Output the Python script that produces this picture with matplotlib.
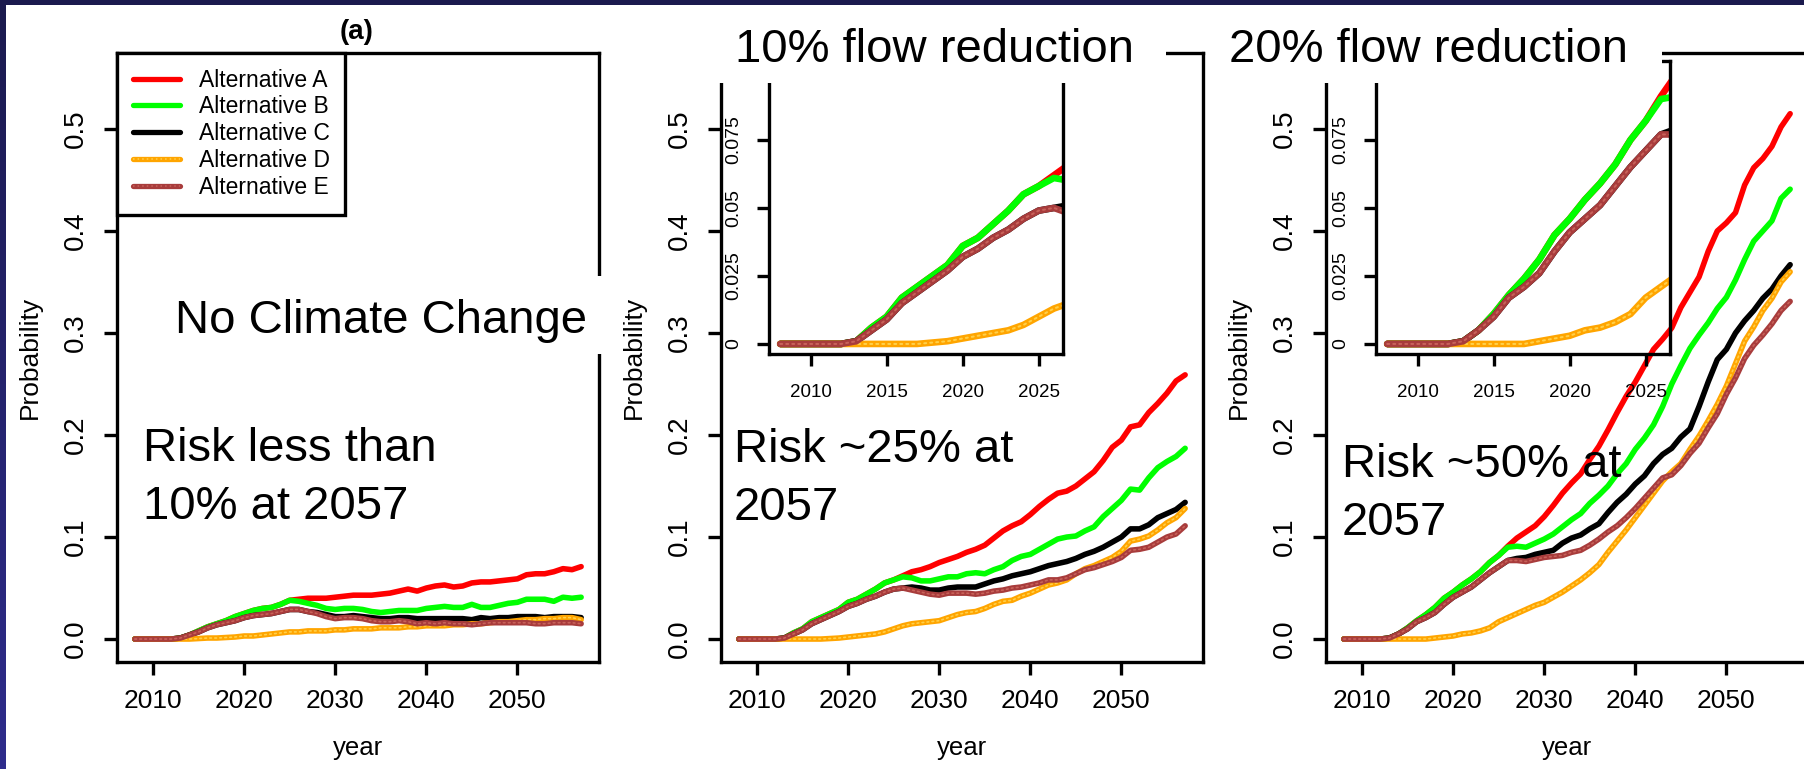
import numpy as np
import matplotlib
matplotlib.use('Agg')
import matplotlib.pyplot as plt
from matplotlib.patches import Rectangle
from matplotlib.lines import Line2D
from matplotlib.colors import LinearSegmentedColormap

plt.rcParams['font.family'] = ['Liberation Sans', 'DejaVu Sans']

years = np.arange(2008, 2058)

# no climate change
nc_a = [0, 0, 0, 0, 0, 0.001, 0.004, 0.008, 0.012, 0.015, 0.018, 0.022, 0.025, 0.028, 0.030,
        0.031, 0.034, 0.038, 0.039, 0.040, 0.040, 0.040, 0.041, 0.042, 0.043, 0.043, 0.043, 0.044,
        0.045, 0.047, 0.049, 0.047, 0.050, 0.052, 0.053, 0.051, 0.052, 0.055, 0.056, 0.056, 0.057,
        0.058, 0.059, 0.063, 0.064, 0.064, 0.066, 0.069, 0.068, 0.071]
nc_b = [0, 0, 0, 0, 0, 0.001, 0.004, 0.008, 0.012, 0.015, 0.018, 0.022, 0.025, 0.028, 0.030,
        0.031, 0.034, 0.038, 0.037, 0.035, 0.033, 0.030, 0.029, 0.030, 0.030, 0.029, 0.027, 0.026,
        0.027, 0.028, 0.028, 0.028, 0.030, 0.031, 0.032, 0.031, 0.031, 0.034, 0.031, 0.031, 0.033,
        0.035, 0.036, 0.039, 0.039, 0.039, 0.037, 0.041, 0.040, 0.041]
nc_c = [0, 0, 0, 0, 0, 0.001, 0.004, 0.007, 0.011, 0.014, 0.016, 0.018, 0.021, 0.023, 0.024,
        0.025, 0.027, 0.029, 0.029, 0.027, 0.026, 0.024, 0.022, 0.022, 0.023, 0.022, 0.021, 0.020,
        0.020, 0.021, 0.021, 0.020, 0.020, 0.020, 0.020, 0.020, 0.020, 0.019, 0.021, 0.020, 0.021,
        0.021, 0.022, 0.022, 0.022, 0.021, 0.022, 0.022, 0.022, 0.021]
nc_d = [0, 0, 0, 0, 0, 0, 0, 0.0005, 0.001, 0.001, 0.0015, 0.002, 0.003, 0.003, 0.004,
        0.005, 0.006, 0.007, 0.007, 0.008, 0.008, 0.008, 0.009, 0.009, 0.010, 0.010, 0.010, 0.011,
        0.011, 0.011, 0.012, 0.012, 0.013, 0.013, 0.013, 0.014, 0.014, 0.015, 0.015, 0.016, 0.017,
        0.017, 0.018, 0.019, 0.019, 0.020, 0.020, 0.021, 0.021, 0.019]
nc_e = [0, 0, 0, 0, 0, 0.001, 0.004, 0.007, 0.011, 0.014, 0.016, 0.018, 0.021, 0.023, 0.024,
        0.025, 0.027, 0.029, 0.029, 0.027, 0.025, 0.022, 0.020, 0.021, 0.021, 0.020, 0.018, 0.017,
        0.017, 0.018, 0.017, 0.015, 0.016, 0.015, 0.016, 0.015, 0.015, 0.014, 0.015, 0.016, 0.016,
        0.016, 0.016, 0.016, 0.015, 0.015, 0.016, 0.016, 0.016, 0.015]

# 10% flow reduction
f10_a = [0, 0, 0, 0, 0, 0.001, 0.006, 0.010, 0.017, 0.021, 0.025, 0.029, 0.036, 0.039, 0.044,
         0.049, 0.055, 0.058, 0.062, 0.066, 0.068, 0.071, 0.075, 0.078, 0.081, 0.085, 0.088, 0.092,
         0.099, 0.106, 0.111, 0.115, 0.122, 0.130, 0.137, 0.143, 0.145, 0.150, 0.157, 0.164, 0.175,
         0.188, 0.195, 0.208, 0.210, 0.222, 0.231, 0.241, 0.253, 0.259]
f10_b = [0, 0, 0, 0, 0, 0.001, 0.006, 0.010, 0.017, 0.021, 0.025, 0.029, 0.036, 0.039, 0.044,
         0.049, 0.055, 0.058, 0.061, 0.060, 0.057, 0.057, 0.059, 0.061, 0.061, 0.064, 0.065, 0.064,
         0.068, 0.071, 0.077, 0.081, 0.083, 0.088, 0.093, 0.098, 0.100, 0.101, 0.106, 0.110, 0.120,
         0.128, 0.136, 0.147, 0.146, 0.158, 0.168, 0.174, 0.179, 0.187]
f10_c = [0, 0, 0, 0, 0, 0.001, 0.005, 0.009, 0.015, 0.019, 0.023, 0.027, 0.032, 0.035, 0.039,
         0.042, 0.046, 0.049, 0.050, 0.051, 0.050, 0.048, 0.048, 0.050, 0.051, 0.051, 0.051, 0.054,
         0.057, 0.059, 0.062, 0.064, 0.066, 0.069, 0.072, 0.074, 0.076, 0.079, 0.083, 0.086, 0.090,
         0.095, 0.100, 0.108, 0.108, 0.112, 0.119, 0.123, 0.127, 0.134]
f10_d = [0, 0, 0, 0, 0, 0, 0, 0, 0, 0, 0.0005, 0.001, 0.002, 0.003, 0.004,
         0.005, 0.007, 0.010, 0.013, 0.015, 0.016, 0.017, 0.018, 0.021, 0.024, 0.026, 0.027, 0.030,
         0.034, 0.037, 0.038, 0.042, 0.045, 0.049, 0.053, 0.055, 0.058, 0.064, 0.069, 0.072, 0.076,
         0.080, 0.086, 0.096, 0.098, 0.101, 0.107, 0.114, 0.119, 0.128]
f10_e = [0, 0, 0, 0, 0, 0.001, 0.005, 0.009, 0.015, 0.019, 0.023, 0.027, 0.032, 0.035, 0.039,
         0.042, 0.046, 0.049, 0.050, 0.048, 0.046, 0.044, 0.043, 0.045, 0.045, 0.045, 0.044, 0.045,
         0.047, 0.048, 0.050, 0.051, 0.053, 0.055, 0.058, 0.058, 0.060, 0.064, 0.068, 0.070, 0.073,
         0.076, 0.080, 0.087, 0.088, 0.090, 0.095, 0.100, 0.103, 0.111]

# 20% flow reduction
f20_a = [0, 0, 0, 0, 0, 0.001, 0.005, 0.011, 0.018, 0.024, 0.031, 0.040, 0.046, 0.053, 0.059,
         0.066, 0.075, 0.082, 0.091, 0.099, 0.105, 0.111, 0.120, 0.131, 0.143, 0.153, 0.162, 0.176,
         0.189, 0.205, 0.222, 0.238, 0.252, 0.268, 0.284, 0.294, 0.305, 0.325, 0.340, 0.355, 0.380,
         0.400, 0.408, 0.418, 0.445, 0.462, 0.471, 0.483, 0.502, 0.515]
f20_b = [0, 0, 0, 0, 0, 0.001, 0.005, 0.011, 0.018, 0.024, 0.031, 0.040, 0.046, 0.053, 0.059,
         0.066, 0.075, 0.082, 0.090, 0.091, 0.090, 0.094, 0.098, 0.103, 0.110, 0.117, 0.123, 0.133,
         0.141, 0.150, 0.162, 0.172, 0.186, 0.197, 0.210, 0.228, 0.250, 0.268, 0.285, 0.298, 0.310,
         0.324, 0.335, 0.352, 0.372, 0.390, 0.400, 0.410, 0.432, 0.441]
f20_c = [0, 0, 0, 0, 0, 0.001, 0.005, 0.010, 0.017, 0.021, 0.026, 0.034, 0.041, 0.046, 0.051,
         0.058, 0.065, 0.071, 0.077, 0.079, 0.080, 0.083, 0.085, 0.087, 0.094, 0.099, 0.102, 0.108,
         0.113, 0.124, 0.134, 0.142, 0.152, 0.160, 0.172, 0.181, 0.187, 0.198, 0.206, 0.228, 0.252,
         0.274, 0.284, 0.300, 0.312, 0.322, 0.334, 0.343, 0.356, 0.367]
f20_d = [0, 0, 0, 0, 0, 0, 0, 0, 0, 0, 0.001, 0.002, 0.003, 0.005, 0.006,
         0.008, 0.011, 0.017, 0.021, 0.025, 0.029, 0.033, 0.036, 0.041, 0.046, 0.052, 0.058, 0.065,
         0.073, 0.085, 0.096, 0.107, 0.119, 0.131, 0.143, 0.155, 0.164, 0.172, 0.186, 0.199, 0.214,
         0.230, 0.248, 0.270, 0.292, 0.306, 0.322, 0.334, 0.350, 0.360]
f20_e = [0, 0, 0, 0, 0, 0.001, 0.005, 0.010, 0.017, 0.021, 0.026, 0.034, 0.041, 0.046, 0.051,
         0.058, 0.065, 0.071, 0.077, 0.077, 0.076, 0.078, 0.080, 0.081, 0.082, 0.085, 0.087, 0.092,
         0.098, 0.105, 0.111, 0.119, 0.128, 0.138, 0.148, 0.158, 0.161, 0.170, 0.182, 0.192, 0.207,
         0.221, 0.240, 0.256, 0.275, 0.288, 0.298, 0.309, 0.322, 0.331]

labels = ['Alternative A', 'Alternative B', 'Alternative C', 'Alternative D', 'Alternative E']
colors = ['#ff0000', '#00ff00', '#000000', '#ffa500', '#a83c3c']
dot_colors = [None, None, None, '#ffd04a', '#c8625a']

x_ticks = [2010, 2020, 2030, 2040, 2050]
y_ticks = [0.0, 0.1, 0.2, 0.3, 0.4, 0.5]
y_ticklabels = ['0.0', '0.1', '0.2', '0.3', '0.4', '0.5']
inset_x_ticks = [2010, 2015, 2020, 2025]
# the 0.1 tick of the insets sits under the title box
inset_y_ticks = [0, 0.025, 0.05, 0.075]
inset_y_ticklabels = ['0', '0.025', '0.05', '0.075']

panels = [[nc_a, nc_b, nc_c, nc_d, nc_e],
          [f10_a, f10_b, f10_c, f10_d, f10_e],
          [f20_a, f20_b, f20_c, f20_d, f20_e]]

W, H = 1804, 769
fig = plt.figure(figsize=(W / 100, H / 100), dpi=100)


def fx(px):
    return px / W


def fy(py):
    return 1 - py / H


def draw_lines(ax, series, lw):
    for s, c, dc in zip(series, colors, dot_colors):
        ax.plot(years, s, color=c, lw=lw, solid_capstyle='round', solid_joinstyle='round')
        if dc:
            ax.plot(years, s, color=dc, lw=lw * 0.3, ls=(0, (1, 2)), dash_capstyle='round')


def frame(ax):
    for sp in ax.spines.values():
        sp.set_linewidth(2.4)


panel_left = [117, 721, 1326]
main_axes = []
for i, series in enumerate(panels):
    ax = fig.add_axes([fx(panel_left[i]), fy(662), 482 / W, 609 / H])
    draw_lines(ax, series, 4.0)
    ax.set_xlim(2006.04, 2058.96)
    ax.set_ylim(-0.0225, 0.5745)
    ax.set_xticks(x_ticks)
    ax.set_yticks(y_ticks, labels=y_ticklabels)
    ax.tick_params(axis='x', labelsize=19, pad=10.5, length=9, width=2.4)
    ax.tick_params(axis='y', labelsize=20, pad=10.5, length=9.5, width=2.4, labelrotation=90)
    for t in ax.get_yticklabels():
        t.set_va('center')
    ax.set_xlabel('year', fontsize=18.5)
    ax.xaxis.set_label_coords(0.5, -0.1215)
    ax.set_ylabel('Probability', fontsize=19)
    ax.yaxis.set_label_coords(-0.155, 0.5)
    frame(ax)
    main_axes.append(ax)

# legend in first panel
handles = []
for c, dc in zip(colors, dot_colors):
    base = Line2D([], [], color=c, lw=3.8, solid_capstyle='round')
    if dc:
        handles.append((base, Line2D([], [], color=dc, lw=1.1, ls=(0, (1, 2)))))
    else:
        handles.append(base)
leg = main_axes[0].legend(handles, labels, loc='upper left', bbox_to_anchor=(0, 1),
                          borderaxespad=0, fontsize=16.5, handlelength=2.05, handletextpad=0.83,
                          labelspacing=0.17, borderpad=0.68, fancybox=False, framealpha=1,
                          edgecolor='black')
leg.get_frame().set_linewidth(2.4)

# insets (first years only)
inset_left = [769, 1376]
for i, series in enumerate(panels[1:]):
    ax = fig.add_axes([fx(inset_left[i]), fy(354), 294 / W, 293 / H], facecolor='none')
    draw_lines(ax, series, 4.8)
    ax.set_xlim(2007.26, 2026.6)
    ax.set_ylim(-0.0037, 0.104)
    ax.set_xticks(inset_x_ticks)
    ax.set_yticks(inset_y_ticks, labels=inset_y_ticklabels)
    ax.tick_params(axis='x', labelsize=13.5, pad=13, length=8.6, width=2.4)
    ax.tick_params(axis='y', labelsize=14, pad=11, length=8.6, width=2.4, labelrotation=90)
    for t in ax.get_yticklabels():
        t.set_va('center')
    frame(ax)

# white boxes behind the big labels
for x0, y0, x1, y1 in [(712, 5, 1166, 83), (1206, 5, 1662, 83), (160, 276, 606, 354)]:
    fig.add_artist(Rectangle((fx(x0), fy(y1)), (x1 - x0) / W, (y1 - y0) / H,
                             transform=fig.transFigure, facecolor='white',
                             edgecolor='none', zorder=2))

big = dict(fontsize=34, ha='left', va='baseline', zorder=4)
fig.text(fx(735), fy(62), '10% flow reduction', **big)
fig.text(fx(1229), fy(62), '20% flow reduction', **big)
fig.text(fx(175), fy(333), 'No Climate Change', **big)
fig.text(fx(143), fy(461), 'Risk less than', **big)
fig.text(fx(143), fy(519), '10% at 2057', **big)
fig.text(fx(734), fy(462), 'Risk ~25% at', **big)
fig.text(fx(734), fy(520), '2057', **big)
fig.text(fx(1342), fy(477), 'Risk ~50% at', **big)
fig.text(fx(1342), fy(535), '2057', **big)
fig.text(fx(357), fy(32), '(a)', fontsize=20, fontweight='bold', ha='center', va='center')

# slide border
fig.add_artist(Rectangle((0, fy(5)), 1, 5 / H, transform=fig.transFigure,
                         facecolor='#1b1a4e', edgecolor='none', zorder=10))
bax = fig.add_axes([0, 0, 6 / W, 1])
cmap = LinearSegmentedColormap.from_list('edge', ['#1b1a4e', '#2e2c8c'])
bax.imshow(np.linspace(0, 1, 256).reshape(-1, 1), cmap=cmap, aspect='auto')
bax.axis('off')
bax.set_zorder(10)

fig.savefig('out.png', dpi=100)
